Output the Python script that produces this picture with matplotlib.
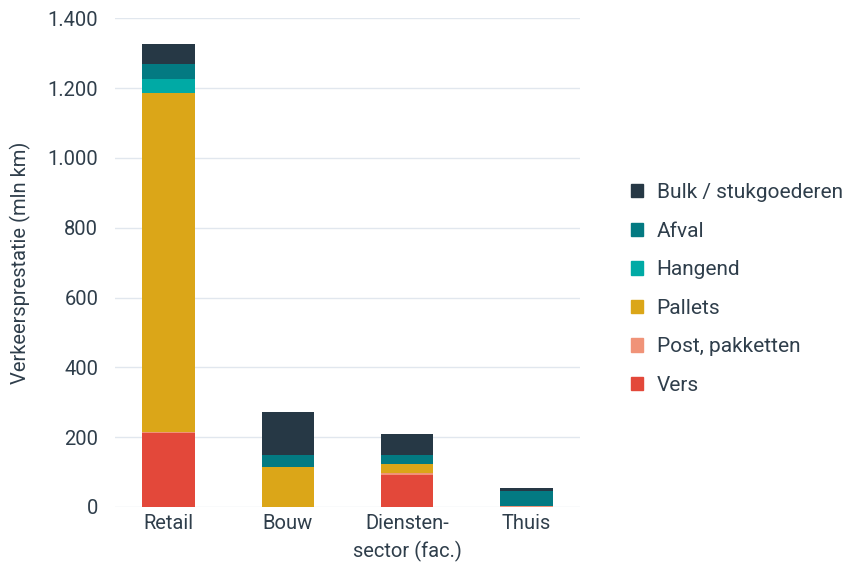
import matplotlib.pyplot as plt
import numpy as np
from matplotlib.patches import Patch
from matplotlib.ticker import FuncFormatter

plt.rcParams["font.family"] = ["Roboto", "DejaVu Sans"]

# Data (mln km)
categories = ["Retail", "Bouw", "Diensten-\nsector (fac.)", "Thuis"]
vers = [212, 0, 91, 0]
post = [2, 0, 5, 3]
pallets = [971, 115, 27, 0]
hangend = [41, 0, 0, 0]
afval = [43, 34, 26, 43]
bulk = [57, 123, 60, 8]

series = [
    ("Vers", vers, "#e3483a"),
    ("Post, pakketten", post, "#f09378"),
    ("Pallets", pallets, "#dba618"),
    ("Hangend", hangend, "#00aaa5"),
    ("Afval", afval, "#037a82"),
    ("Bulk / stukgoederen", bulk, "#263845"),
]

text_color = "#2f3e4b"

fig = plt.figure(figsize=(8.47, 5.69), dpi=100)
ax = fig.add_axes([0.1358, 0.109, 0.549, 0.859])

x = np.arange(len(categories))
bottom = np.zeros(len(categories))
for name, vals, color in series:
    ax.bar(x, vals, width=0.44, bottom=bottom, color=color, zorder=3)
    bottom += np.array(vals)

ax.set_xlim(-0.45, 3.45)
ax.set_ylim(0, 1400)
ax.set_yticks(np.arange(0, 1401, 200))
ax.yaxis.set_major_formatter(
    FuncFormatter(lambda v, p: f"{int(v):,}".replace(",", "."))
)
ax.set_xticks(x)
ax.set_xticklabels(categories, linespacing=1.5)
ax.grid(axis="y", color="#e1e7ee", linewidth=1, zorder=0)
for s in ax.spines.values():
    s.set_visible(False)
ax.tick_params(axis="both", length=0, labelsize=14.5, colors=text_color)
ax.tick_params(axis="y", pad=12)
ax.tick_params(axis="x", pad=5)
ax.set_ylabel("Verkeersprestatie (mln km)", fontsize=14.5, color=text_color,
              labelpad=12)

handles = [Patch(color=c, label=n) for n, _, c in series][::-1]
leg = fig.legend(handles=handles, loc="center left",
                 bbox_to_anchor=(0.7445, 0.492), frameon=False, fontsize=15,
                 handlelength=0.6, handleheight=0.6, handletextpad=0.65,
                 labelspacing=0.94, labelcolor=text_color,
                 borderaxespad=0, borderpad=0)

fig.savefig("out.png", dpi=100)
